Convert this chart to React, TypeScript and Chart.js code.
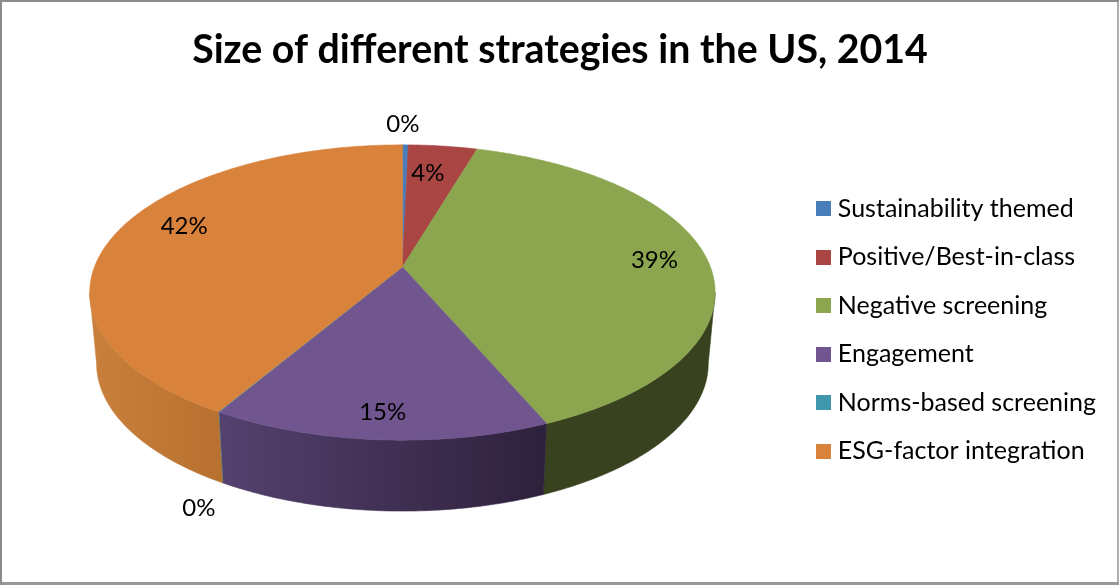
import React, { useEffect, useRef } from "react";
import { Chart, registerables } from "chart.js";

Chart.register(...registerables);

const titleText = "Size of different strategies in the US, 2014";
const categories = [
  "Sustainability themed",
  "Positive/Best-in-class",
  "Negative screening",
  "Engagement",
  "Norms-based screening",
  "ESG-factor integration",
];
const shares = [0.36, 4.2, 39.0, 14.9, 0.03, 41.51];
const topColors = ["#4A7EBB", "#A94543", "#8BA64F", "#71558F", "#4197AD", "#D9823B"];
const wallColorsLeft = ["#3A6496", "#873634", "#38421E", "#54416F", "#347A8B", "#C9803C"];
const wallColorsRight = ["#3A6496", "#873634", "#38421E", "#2E213B", "#347A8B", "#B87130"];
// radial fraction of the disk, then nudges in pixels, for each percentage label
const labelPlacement: [number, number, number][] = [
  [1.21, -3, 1],
  [0.75, -6, 0],
  [0.83, -1, 0],
  [0.86, 0, 1],
  [1.09, 0, 81],
  [0.76, 0, -13],
];

const FONT = "Lato";

const view = { rx: 2.088, ry: 0.971, tilt: 0.173, lift: 0.173, depth: 0.481, shrink: 0.978, shiftX: -4 };

function project(arc: any, u: number, v: number) {
  const R = arc.outerRadius;
  const w = 1 - view.tilt * v;
  return {
    x: arc.x + view.shiftX + (view.rx * R * u) / w,
    y: arc.y - view.lift * R + (view.ry * R * v) / w,
  };
}

function rimPath(arc: any, a0: number, a1: number) {
  const pts: { x: number; y: number }[] = [];
  const n = Math.max(2, Math.ceil(Math.abs(a1 - a0) / 0.01));
  for (let i = 0; i <= n; i++) {
    const a = a0 + ((a1 - a0) * i) / n;
    pts.push(project(arc, Math.cos(a), Math.sin(a)));
  }
  return pts;
}

const pie3d = {
  id: "pie3d",
  beforeDatasetDraw(chart: any) {
    const ctx = chart.ctx;
    const arcs = chart.getDatasetMeta(0).data;
    const edge = Math.asin(view.tilt);
    arcs.forEach((arc: any, i: number) => {
      const a0 = Math.max(arc.startAngle, edge);
      const a1 = Math.min(arc.endAngle, Math.PI - edge);
      if (a1 <= a0) return;
      const top = rimPath(arc, a0, a1);
      const R = arc.outerRadius;
      const cx = arc.x + view.shiftX;
      const bottom = top
        .map((p) => ({
          x: cx + (p.x - cx) * view.shrink,
          y: p.y + view.depth * R,
        }))
        .reverse();
      const xs = top.map((p) => p.x);
      const g = ctx.createLinearGradient(Math.min(...xs), 0, Math.max(...xs), 0);
      g.addColorStop(0, wallColorsLeft[i]);
      g.addColorStop(1, wallColorsRight[i]);
      ctx.beginPath();
      [...top, ...bottom].forEach((p, k) => (k ? ctx.lineTo(p.x, p.y) : ctx.moveTo(p.x, p.y)));
      ctx.closePath();
      ctx.fillStyle = g;
      ctx.strokeStyle = g;
      ctx.lineWidth = 0.6;
      ctx.fill();
      ctx.stroke();
    });
    arcs.forEach((arc: any, i: number) => {
      const apex = project(arc, 0, 0);
      const rim = rimPath(arc, arc.startAngle, arc.endAngle);
      ctx.beginPath();
      ctx.moveTo(apex.x, apex.y);
      rim.forEach((p) => ctx.lineTo(p.x, p.y));
      ctx.closePath();
      ctx.fillStyle = topColors[i];
      ctx.strokeStyle = topColors[i];
      ctx.lineWidth = 0.6;
      ctx.fill();
      ctx.stroke();
    });
    return false;
  },
  afterDatasetsDraw(chart: any) {
    const ctx = chart.ctx;
    const arcs = chart.getDatasetMeta(0).data;
    const total = shares.reduce((s, v) => s + v, 0);
    ctx.save();
    ctx.font = `24px ${FONT}`;
    ctx.fillStyle = "#000";
    ctx.textAlign = "center";
    ctx.textBaseline = "middle";
    arcs.forEach((arc: any, i: number) => {
      const mid = (arc.startAngle + arc.endAngle) / 2;
      const [f, dx, dy] = labelPlacement[i];
      const p = project(arc, f * Math.cos(mid), f * Math.sin(mid));
      ctx.fillText(`${Math.round((shares[i] / total) * 100)}%`, p.x + dx, p.y + dy);
    });
    ctx.restore();
  },
  afterDraw(chart: any) {
    const ctx = chart.ctx;
    const w = chart.width;
    const h = chart.height;
    ctx.save();
    ctx.fillStyle = "#B0B0B0";
    ctx.fillRect(w - 2, 0, 2, h);
    ctx.fillStyle = "#999999";
    ctx.fillRect(0, h - 3, w, 3);
    ctx.fillStyle = "#8C8C8C";
    ctx.fillRect(0, 0, w, 2);
    ctx.fillRect(0, 0, 2, h);
    ctx.restore();
  },
};

function swatch(color: string) {
  const c = document.createElement("canvas");
  c.width = 15;
  c.height = 15;
  const g = c.getContext("2d")!;
  g.fillStyle = color;
  g.fillRect(0, 0, 15, 15);
  return c;
}

export default function App() {
  const ref = useRef<HTMLCanvasElement>(null);
  useEffect(() => {
    document.body.style.margin = "0";
    const chart = new Chart(ref.current!, {
      type: "pie",
      data: {
        labels: categories,
        datasets: [{ data: shares, backgroundColor: topColors, borderWidth: 0 }],
      },
      plugins: [pie3d],
      options: {
        animation: false,
        responsive: false,
        radius: 147.5,
        layout: { padding: { left: 14, right: 13, top: 0, bottom: 98 } },
        plugins: {
          title: {
            display: true,
            text: titleText,
            color: "#000",
            font: { family: FONT, size: 39.3, weight: "bold" },
            padding: { top: 26.5, bottom: 24.3 },
          },
          tooltip: { enabled: false },
          legend: {
            position: "right",
            align: "end",
            labels: {
              color: "#000",
              font: { family: FONT, size: 25 },
              padding: 23.5,
              usePointStyle: true,
              pointStyleWidth: 3,
              generateLabels: () =>
                categories.map((text, i) => ({
                  text,
                  fillStyle: topColors[i],
                  strokeStyle: topColors[i],
                  lineWidth: 0,
                  pointStyle: swatch(topColors[i]),
                  hidden: false,
                  index: i,
                })),
            },
          },
        },
      } as any,
    });
    return () => chart.destroy();
  }, []);
  return <canvas ref={ref} width={1119} height={585} style={{ display: "block" }} />;
}
